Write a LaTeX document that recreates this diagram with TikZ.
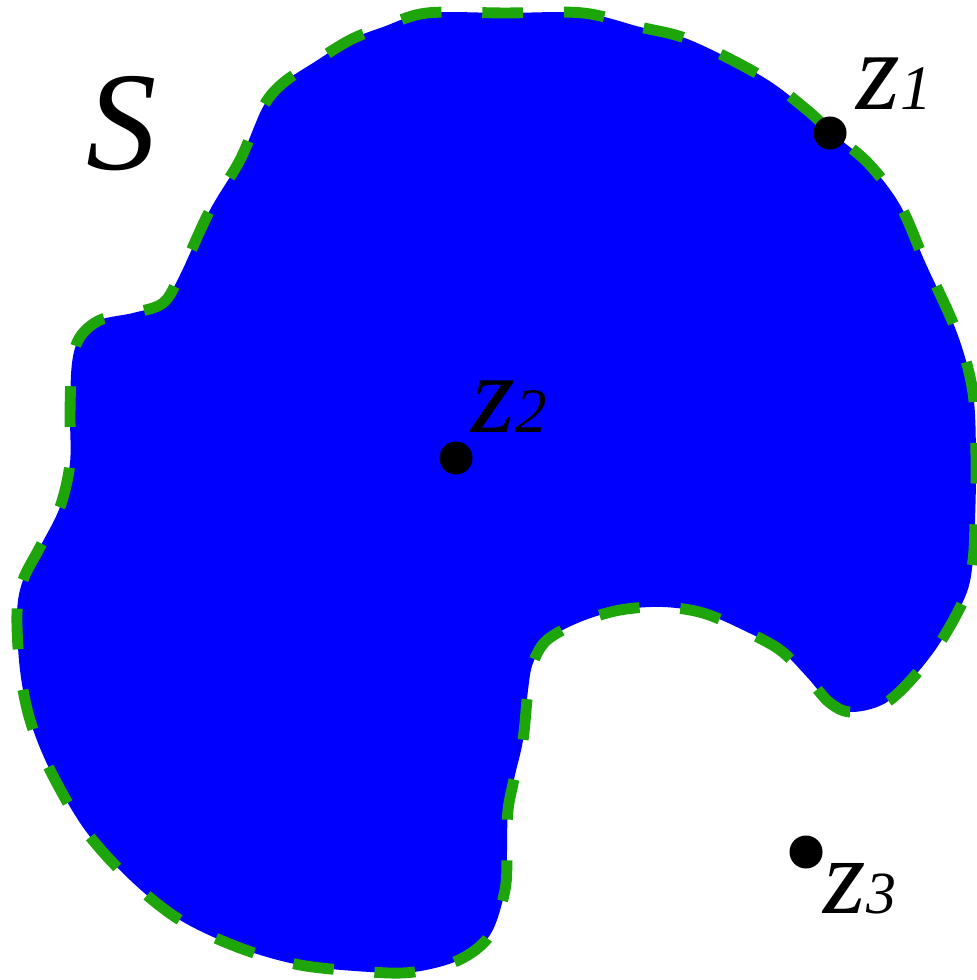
\documentclass[tikz,border=0pt]{standalone}
\usepackage{fontspec}
\setmainfont{Liberation Serif}
\definecolor{regionblue}{RGB}{0,0,255}
\definecolor{edgegreen}{RGB}{30,165,10}
\begin{document}
\begin{tikzpicture}[x=0.01cm,y=-0.01cm,
  dot/.style={circle,fill=black,inner sep=0pt,minimum size=0.33cm},
  lbl/.style={inner sep=0pt,anchor=base west},
  edge/.style={draw=edgegreen,line width=3.1pt,dash pattern=on 11.6pt off 11.6pt}]
\useasboundingbox (0,0) rectangle (976,980);
\def\outline{plot[smooth cycle,tension=0.55] coordinates {
 (17,613) (23,580) (40,547) (60,507) (70,463) (70,413) (72,363) (80,337) (100,320)
 (133,313) (163,303) (180,275) (210,210) (240,160) (263,107) (283,83) (313,63)
 (350,40) (383,27) (427,13) (505,13) (583,13) (640,27) (690,40) (763,77) (807,110)
 (832,133) (868,163) (900,205) (925,262) (957,333) (973,393) (976,460) (975,520)
 (973,560) (965,597) (933,653) (890,700) (853,712) (830,703) (807,677) (780,650)
 (743,630) (703,613) (663,607) (620,610) (580,622) (547,640) (533,663) (528,690)
 (523,740) (515,775) (508,810) (507,850) (505,890) (490,935) (459,960) (414,972)
 (370,972) (300,965) (240,948) (180,920) (130,880) (85,830) (50,770) (30,720) (20,670)}}
\fill[regionblue] \outline;
\path[edge] \outline;
\node[dot] (z1) at (830,133) {};
\node[dot] (z2) at (456,458) {};
\node[dot] (z3) at (806,852) {};
\node[lbl] (l1) at (856,110) {\fontsize{32}{32}\selectfont\itshape z\fontsize{18}{18}\selectfont 1};
\node[lbl] (l2) at (471,433) {\fontsize{32}{32}\selectfont\itshape z\fontsize{18}{18}\selectfont 2};
\node[lbl] (l3) at (823,913) {\fontsize{31}{31}\selectfont\itshape z\fontsize{17}{17}\selectfont 3};
\node[lbl] (ls) at (86,170) {\fontsize{40}{40}\selectfont\itshape S};
\end{tikzpicture}
\end{document}
